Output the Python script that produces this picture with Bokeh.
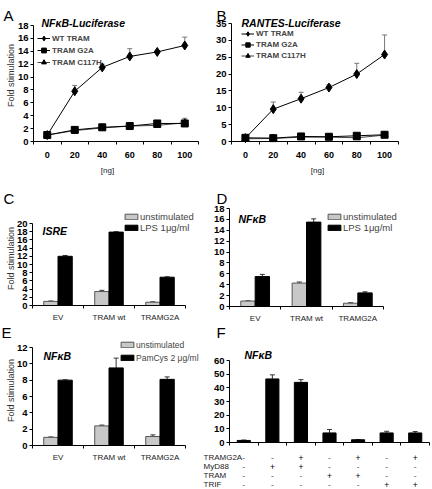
import numpy as np
from bokeh.plotting import figure
from bokeh.models import (Range1d, FixedTicker, Label, Legend, LegendItem, Whisker,
                          TeeHead, ColumnDataSource)
from bokeh.layouts import row, column
from bokeh.embed import file_html
from bokeh.resources import INLINE

FONT = "Liberation Sans"

# ---------------- data ----------------
doses = [0, 20, 40, 60, 80, 100]
series_names = ["WT TRAM", "TRAM G2A", "TRAM C117H"]
a_wt = [1.0, 7.8, 11.5, 13.2, 13.9, 14.9]
a_wt_hi = [1.1, 8.7, 12.0, 14.4, 14.1, 16.2]
a_g2a = [1.0, 1.8, 2.2, 2.4, 2.8, 2.8]
a_g2a_hi = [1.1, 1.9, 2.3, 2.6, 3.0, 3.6]
a_c117h = [1.0, 1.7, 2.1, 2.4, 2.5, 2.9]
b_wt = [1.0, 9.6, 12.7, 16.0, 20.0, 25.8]
b_wt_hi = [1.1, 11.7, 14.6, 16.8, 23.2, 31.6]
b_g2a = [1.1, 1.0, 1.5, 1.4, 1.7, 2.0]
b_g2a_hi = [1.2, 1.1, 1.6, 1.5, 1.9, 2.2]
b_c117h = [0.8, 0.9, 1.3, 1.3, 1.1, 1.9]

bar_cats = ["EV", "TRAM wt", "TRAMG2A"]
c_unstim = [1.0, 3.4, 0.8]
c_unstim_hi = [1.1, 3.7, 0.9]
c_lps = [12.0, 17.9, 6.9]
c_lps_hi = [12.2, 18.0, 7.0]
d_unstim = [1.0, 4.3, 0.6]
d_unstim_hi = [1.05, 4.5, 0.7]
d_lps = [5.5, 15.5, 2.5]
d_lps_hi = [5.9, 16.1, 2.7]
e_unstim = [1.0, 2.4, 1.1]
e_unstim_hi = [1.05, 2.5, 1.3]
e_pam = [8.0, 9.5, 8.1]
e_pam_hi = [8.05, 10.7, 8.4]

f_vals = [1.5, 46.5, 44.0, 7.0, 2.0, 7.0, 7.0]
f_hi = [1.8, 49.5, 46.0, 9.5, 2.2, 8.2, 8.0]
f_rows = ["TRAMG2A", "MyD88", "TRAM", "TRIF"]
f_signs = [
    ["-", "-", "+", "-", "+", "-", "+"],
    ["-", "+", "+", "-", "-", "-", "-"],
    ["-", "-", "-", "+", "+", "-", "-"],
    ["-", "-", "-", "-", "-", "+", "+"],
]

# ---------------- layout (absolute page px) ----------------
# figure rectangles: x, y, w, h
FA = (0, 0, 212, 178)
FB = (212, 0, 220, 178)
FC = (0, 178, 212, 144)
FD = (212, 178, 220, 144)
FE = (0, 322, 200, 167)
FF = (200, 322, 232, 167)
# plot areas: left, top, right, bottom
AA = (33, 25, 198, 141)
AB = (231, 23, 398, 141)
AC = (32, 223, 185, 305)
AD = (229, 208, 383, 306)
AE = (32, 347, 185, 445)
AF = (229, 360, 429, 442)

GRAY = "#c8c8c8"
TICK = "9.5px"


def make_panel(F, A, xlim, ylim, ystep):
    fx, fy, fw, fh = F
    L, T, R, B = A
    x0, x1 = xlim
    y0, y1 = ylim
    sx = (R - L) / (x1 - x0)
    sy = (B - T) / (y1 - y0)
    xr = Range1d(x0 - (L - fx) / sx, x1 + (fx + fw - R) / sx)
    yr = Range1d(y0 - (fy + fh - B) / sy, y1 + (T - fy) / sy)
    p = figure(width=fw, height=fh, x_range=xr, y_range=yr,
               min_border=0, min_border_left=0, min_border_right=0,
               min_border_top=0, min_border_bottom=0,
               output_backend="svg", toolbar_location=None, tools="")
    p.outline_line_color = None
    p.xgrid.visible = False
    p.ygrid.visible = False
    p.background_fill_color = "white"
    p.border_fill_color = "white"
    ya = p.yaxis[0]
    ya.fixed_location = x0
    ya.bounds = (y0, y1)
    ya.ticker = FixedTicker(ticks=list(range(int(y0), int(y1) + 1, ystep)))
    ya.major_tick_out = 3
    ya.major_tick_in = 0
    ya.minor_tick_out = 0
    ya.minor_tick_in = 0
    ya.major_label_text_font = FONT
    ya.major_label_text_font_size = TICK
    ya.major_label_text_font_style = "bold"
    ya.major_label_text_color = "black"
    ya.major_label_standoff = 2
    ya.axis_line_color = "black"
    ya.major_tick_line_color = "black"
    xa = p.xaxis[0]
    xa.fixed_location = y0
    xa.bounds = (x0, x1)
    xa.axis_line_color = "black"
    xa.major_tick_out = 0
    xa.major_tick_in = 0
    xa.minor_tick_out = 3
    xa.minor_tick_in = 0
    xa.minor_tick_line_color = "black"
    xa.major_label_text_font = FONT
    return p


def add_text(p, F, ax, ay, text, size="8px", style="normal", align="left",
             baseline="middle", color="black", angle=0.0):
    fx, fy, fw, fh = F
    p.add_layout(Label(x=ax - fx, y=(fy + fh) - ay, x_units="screen", y_units="screen",
                       text=text, text_font=FONT, text_font_size=size,
                       text_font_style=style, text_align=align, text_baseline=baseline,
                       text_color=color, angle=angle))


def whisker(p, xs, lo, hi, color="#555555"):
    src = ColumnDataSource(dict(x=list(xs), lo=list(lo), hi=list(hi)))
    w = Whisker(source=src, base="x", lower="lo", upper="hi", lower_head=None,
                upper_head=TeeHead(size=5, line_color=color, line_width=1),
                line_color=color, line_width=1)
    p.add_layout(w)


def line_panel(F, A, ymax, ystep, wt, wt_hi, g2a, g2a_hi, c117h, leg_x, leg_top, leg_h):
    p = make_panel(F, A, (-10, 110), (0, ymax), ystep)
    xa = p.xaxis[0]
    xa.ticker = FixedTicker(ticks=doses, minor_ticks=[d - 10 for d in doses] + [110])
    xa.major_label_text_font_size = "9px"
    xa.major_label_text_font_style = "bold"
    xa.major_label_text_color = "black"
    xa.major_label_standoff = 7
    whisker(p, doses, wt, wt_hi, "#777777")
    whisker(p, doses, g2a, g2a_hi, "#777777")
    r1l = p.line(doses, wt, line_color="black", line_width=1)
    r1s = p.scatter(doses, wt, marker="diamond", size=9, color="black")
    r3l = p.line(doses, c117h, line_color="#444444", line_width=1)
    r3s = p.scatter(doses, c117h, marker="triangle", size=7, color="black")
    r2l = p.line(doses, g2a, line_color="black", line_width=1)
    r2s = p.scatter(doses, g2a, marker="square", size=7, color="black")
    fx, fy, fw, fh = F
    leg = Legend(items=[LegendItem(label=series_names[0], renderers=[r1l, r1s]),
                        LegendItem(label=series_names[1], renderers=[r2l, r2s]),
                        LegendItem(label=series_names[2], renderers=[r3l, r3s])],
                 location=(leg_x - fx, (fy + fh) - (leg_top + 3 * leg_h)),
                 orientation="vertical", padding=0, spacing=0, margin=0,
                 glyph_width=13, glyph_height=leg_h, label_height=leg_h,
                 label_standoff=2, label_text_font=FONT, label_text_font_size="8px",
                 label_text_font_style="bold", background_fill_alpha=0,
                 border_line_color=None)
    p.add_layout(leg)
    return p


def bar_panel(F, A, ymax, ystep, unstim, unstim_hi, stim, stim_hi, stim_label,
              leg_x, leg_top, leg_h, leg_size):
    n = len(bar_cats)
    centers = np.arange(n) + 0.5
    p = make_panel(F, A, (0, n), (0, ymax), ystep)
    xa = p.xaxis[0]
    xa.ticker = FixedTicker(ticks=list(centers), minor_ticks=list(range(n + 1)))
    xa.major_label_overrides = {float(c): lab for c, lab in zip(centers, bar_cats)}
    xa.major_label_text_font_size = "8px"
    xa.major_label_text_color = "#222222"
    xa.major_label_standoff = 4
    bw = 0.28
    r_u = p.vbar(x=centers - bw / 2, top=unstim, width=bw, fill_color=GRAY,
                 line_color="#555555", line_width=1)
    r_s = p.vbar(x=centers + bw / 2, top=stim, width=bw, fill_color="black",
                 line_color="black", line_width=1)
    whisker(p, centers - bw / 2, unstim, unstim_hi, "#333333")
    whisker(p, centers + bw / 2, stim, stim_hi, "#333333")
    fx, fy, fw, fh = F
    leg = Legend(items=[LegendItem(label="unstimulated", renderers=[r_u]),
                        LegendItem(label=stim_label, renderers=[r_s])],
                 location=(leg_x - fx, (fy + fh) - (leg_top + 2 * leg_h)),
                 orientation="vertical", padding=0, spacing=0, margin=0,
                 glyph_width=16, glyph_height=7, label_height=leg_h, label_standoff=1,
                 label_text_font=FONT, label_text_font_size=leg_size,
                 background_fill_alpha=0, border_line_color=None)
    p.add_layout(leg)
    return p


LETTER = "15px"
TITLE = "10.5px"
YLAB = "9px"

# ---------------- panel A ----------------
pA = line_panel(FA, AA, 18, 2, a_wt, a_wt_hi, a_g2a, a_g2a_hi, a_c117h, 37, 32, 12)
add_text(pA, FA, 3, 15, "A", size=LETTER, baseline="alphabetic")
add_text(pA, FA, 41, 22, "NF\u03baB-Luciferase", size=TITLE, style="bold italic",
         baseline="alphabetic")
add_text(pA, FA, 10, 75, "Fold stimulation", size=YLAB, align="center", color="#333333",
         angle=np.pi / 2)
add_text(pA, FA, 107, 170, "[ng]", size="8px", align="center", color="#222222")

# ---------------- panel B ----------------
pB = line_panel(FB, AB, 35, 5, b_wt, b_wt_hi, b_g2a, b_g2a_hi, b_c117h, 241, 28, 11)
add_text(pB, FB, 216, 15, "B", size=LETTER, baseline="alphabetic")
add_text(pB, FB, 241, 22, "RANTES-Luciferase", size=TITLE, style="bold italic",
         baseline="alphabetic")
add_text(pB, FB, 317, 170, "[ng]", size="8px", align="center", color="#222222")

# ---------------- panel C ----------------
pC = bar_panel(FC, AC, 20, 2, c_unstim, c_unstim_hi, c_lps, c_lps_hi, "LPS 1\u03bcg/ml",
               123, 211, 11, "9.5px")
add_text(pC, FC, 3, 198, "C", size=LETTER, baseline="alphabetic")
add_text(pC, FC, 42, 230, "ISRE", size=TITLE, style="bold italic", baseline="alphabetic")
add_text(pC, FC, 10, 258, "Fold stimulation", size=YLAB, align="center", color="#333333",
         angle=np.pi / 2)

# ---------------- panel D ----------------
pD = bar_panel(FD, AD, 18, 2, d_unstim, d_unstim_hi, d_lps, d_lps_hi, "LPS 1\u03bcg/ml",
               326, 211, 11, "9.5px")
add_text(pD, FD, 216, 198, "D", size=LETTER, baseline="alphabetic")
add_text(pD, FD, 238, 218, "NF\u03baB", size=TITLE, style="bold italic", baseline="alphabetic")

# ---------------- panel E ----------------
pE = bar_panel(FE, AE, 12, 2, e_unstim, e_unstim_hi, e_pam, e_pam_hi, "PamCys 2 \u03bcg/ml",
               119, 338, 13, "8.5px")
add_text(pE, FE, 1, 332, "E", size=LETTER, baseline="alphabetic")
add_text(pE, FE, 43, 355, "NF\u03baB", size=TITLE, style="bold italic", baseline="alphabetic")
add_text(pE, FE, 10, 390, "Fold stimulation", size=YLAB, align="center", color="#333333",
         angle=np.pi / 2)

# ---------------- panel F ----------------
nF = len(f_vals)
fcent = np.arange(nF) + 0.5
pF = make_panel(FF, AF, (0, nF), (0, 60), 10)
xaF = pF.xaxis[0]
xaF.ticker = FixedTicker(ticks=[], minor_ticks=list(range(nF + 1)))
pF.vbar(x=fcent, top=f_vals, width=0.46, fill_color="black", line_color="black")
whisker(pF, fcent, f_vals, f_hi, "#333333")
add_text(pF, FF, 216, 332, "F", size=LETTER, baseline="alphabetic")
add_text(pF, FF, 244, 354, "NF\u03baB", size=TITLE, style="bold italic", baseline="alphabetic")
row_y = [457, 466, 475, 484]
for name, signs, yy in zip(f_rows, f_signs, row_y):
    add_text(pF, FF, 203, yy, name, size="8px", color="#222222")
    for xc, s in zip(fcent, signs):
        pF.add_layout(Label(x=xc, y=(FF[1] + FF[3]) - yy, x_units="data", y_units="screen",
                            text=s, text_font=FONT, text_font_size="8.5px",
                            text_align="center", text_baseline="middle",
                            text_color="black" if s == "+" else "#666666"))

layout = column(row(pA, pB), row(pC, pD), row(pE, pF))
open("out.html", "w").write(file_html(layout, INLINE))
